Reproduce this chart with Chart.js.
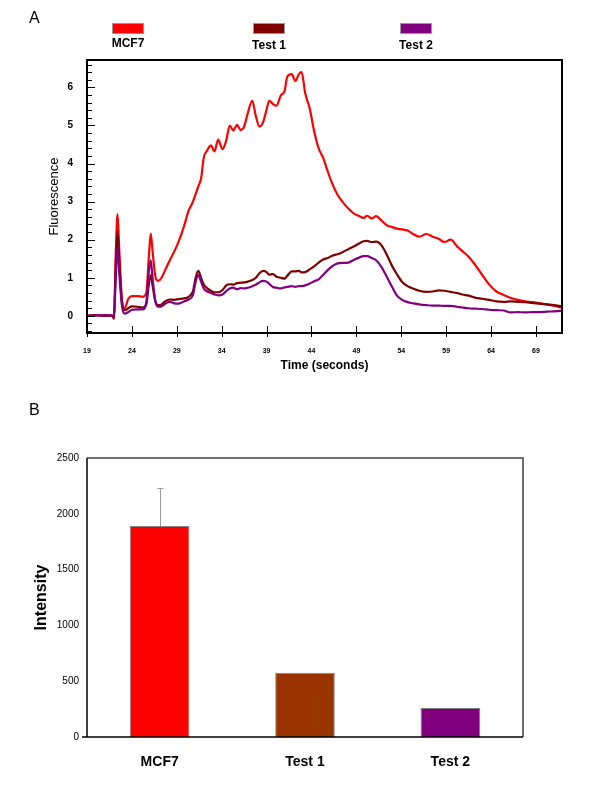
<!DOCTYPE html>
<html lang="en">
<head>
<meta charset="UTF-8" />
<title>Fluorescence traces and intensity</title>
<script src="https://cdn.jsdelivr.net/npm/chart.js"></script>
<style>
  body { margin: 0; background: #fff; font-family: "Liberation Sans", Arial, sans-serif; }
  #page { position: relative; width: 600px; height: 800px; }
  canvas { position: absolute; left: 0; }
  .panel { position: absolute; left: 29px; font-size: 16px; color: #000; line-height: 18px; }
</style>
</head>
<body>
<div id="page">
  <canvas id="traceChart" width="600" height="390" style="top:0"></canvas>
  <canvas id="barChart" width="600" height="410" style="top:390px"></canvas>
  <div class="panel" style="top:9px">A</div>
  <div class="panel" style="top:401px">B</div>
</div>

<script>
// Panel A: fluorescence traces (time in seconds)
const timeSec = [
  19, 20, 21, 21.8, 22.0, 22.2, 22.4, 22.6, 22.9, 23.2,
  23.6, 24.0, 24.6, 25.2, 25.6, 25.9, 26.1, 26.3, 26.6, 26.9,
  27.3, 27.7, 28.2, 28.7, 29.2, 29.8, 30.3, 30.8, 31.1, 31.4,
  31.7, 32.0, 32.4, 32.8, 33.2, 33.6, 34.1, 34.5, 34.9, 35.3,
  35.7, 36.1, 36.5, 36.9, 37.4, 37.8, 38.2, 38.6, 39.0, 39.3,
  39.7, 40.1, 40.6, 41.0, 41.3, 41.8, 42.2, 42.6, 42.9, 43.3,
  43.8, 44.3, 44.8, 45.3, 45.8, 46.3, 46.9, 47.5, 48.1, 48.7,
  49.3, 49.8, 50.2, 50.7, 51.2, 51.8, 52.4, 53.0, 53.5, 54.1,
  54.7, 55.3, 56.0, 56.8, 57.5, 58.2, 58.8, 59.5, 60.2, 60.8,
  61.5, 62.2, 63.0, 63.8, 64.6, 65.4, 66.2, 67.0, 67.8, 68.6,
  69.4, 70.2, 71.0, 71.8
];
const mcf7Trace = [
  0.00, 0.02, 0.00, 0.01, -0.08, 1.60, 2.67, 1.70, 0.40, 0.20,
  0.45, 0.52, 0.52, 0.50, 0.60, 1.60, 2.16, 1.70, 1.05, 0.92,
  1.00, 1.20, 1.45, 1.68, 1.95, 2.35, 2.75, 3.00, 3.20, 3.40,
  3.60, 4.15, 4.35, 4.48, 4.32, 4.63, 4.38, 4.60, 5.00, 4.87,
  5.02, 4.88, 4.97, 5.32, 5.65, 5.25, 4.97, 5.08, 5.42, 5.65,
  5.57, 5.52, 5.80, 5.90, 6.28, 6.35, 6.17, 6.35, 6.40, 5.85,
  5.45, 4.85, 4.40, 4.15, 3.80, 3.48, 3.18, 2.98, 2.82, 2.69,
  2.62, 2.57, 2.63, 2.56, 2.62, 2.50, 2.38, 2.33, 2.29, 2.27,
  2.24, 2.15, 2.08, 2.15, 2.08, 2.02, 1.94, 2.00, 1.83, 1.70,
  1.55, 1.35, 1.08, 0.82, 0.64, 0.55, 0.47, 0.42, 0.38, 0.36,
  0.33, 0.30, 0.27, 0.22
];
const test1Trace = [
  0.00, 0.02, 0.00, 0.01, -0.05, 1.30, 2.23, 1.40, 0.35, 0.15,
  0.20, 0.25, 0.24, 0.22, 0.30, 0.85, 1.07, 0.80, 0.40, 0.28,
  0.30, 0.38, 0.43, 0.42, 0.44, 0.46, 0.50, 0.65, 1.00, 1.18,
  1.00, 0.82, 0.72, 0.66, 0.62, 0.62, 0.68, 0.80, 0.83, 0.82,
  0.86, 0.87, 0.88, 0.90, 0.94, 1.00, 1.12, 1.18, 1.15, 1.08,
  1.10, 1.03, 1.00, 0.98, 1.05, 1.17, 1.17, 1.18, 1.14, 1.15,
  1.22, 1.30, 1.40, 1.48, 1.52, 1.58, 1.62, 1.68, 1.75, 1.82,
  1.90, 1.96, 1.97, 1.94, 1.95, 1.85, 1.60, 1.30, 1.10, 0.89,
  0.78, 0.72, 0.66, 0.63, 0.64, 0.67, 0.66, 0.63, 0.60, 0.56,
  0.53, 0.48, 0.45, 0.42, 0.38, 0.37, 0.38, 0.37, 0.36, 0.34,
  0.32, 0.30, 0.28, 0.25
];
const test2Trace = [
  0.00, 0.01, 0.02, 0.00, -0.03, 1.00, 1.81, 1.10, 0.25, 0.06,
  0.10, 0.16, 0.17, 0.17, 0.35, 1.20, 1.46, 1.00, 0.40, 0.24,
  0.25, 0.32, 0.37, 0.33, 0.32, 0.38, 0.43, 0.55, 0.90, 1.07,
  0.90, 0.72, 0.64, 0.60, 0.56, 0.54, 0.56, 0.65, 0.72, 0.74,
  0.70, 0.73, 0.72, 0.74, 0.78, 0.82, 0.88, 0.92, 0.90, 0.84,
  0.76, 0.74, 0.72, 0.75, 0.76, 0.78, 0.76, 0.78, 0.78, 0.80,
  0.85, 0.91, 0.96, 1.08, 1.20, 1.30, 1.38, 1.39, 1.40, 1.47,
  1.53, 1.57, 1.57, 1.52, 1.46, 1.28, 1.02, 0.75, 0.54, 0.42,
  0.36, 0.33, 0.30, 0.28, 0.27, 0.27, 0.26, 0.26, 0.24, 0.22,
  0.20, 0.19, 0.18, 0.16, 0.15, 0.14, 0.09, 0.10, 0.09, 0.10,
  0.10, 0.11, 0.12, 0.13
];
const timeTicks = [19, 24, 29, 34, 39, 44, 49, 54, 59, 64, 69];
const fluorTicks = [0, 1, 2, 3, 4, 5, 6];

// Panel B: intensity bars
const sampleNames = ['MCF7', 'Test 1', 'Test 2'];
const intensity = [1890, 575, 260];
const intensityErr = [340, 0, 0];
const intensityTicks = [0, 500, 1000, 1500, 2000, 2500];

const traceColors = ['#ff0000', '#800000', '#800080'];
const barColors = ['#ff0000', '#993300', '#800080'];

Chart.defaults.font.family = '"Liberation Sans", Arial, sans-serif';
Chart.defaults.color = '#000';

function pts(ys) {
  return timeSec.map((t, i) => ({ x: t, y: ys[i] }));
}

// legend boxes with names underneath, frame and inside tick marks for panel A
const traceDecor = {
  id: 'traceDecor',
  afterDraw(chart, args, opts) {
    const { ctx, chartArea: a, scales: { x, y } } = chart;
    ctx.save();
    ctx.strokeStyle = '#000';
    ctx.lineWidth = 1;
    for (let i = -2; i <= 33; i++) {
      const py = Math.round(y.getPixelForValue(i * 0.2)) + 0.5;
      if (py < a.top || py > a.bottom) continue;
      const len = i % 5 === 0 ? 8 : 5;
      ctx.beginPath();
      ctx.moveTo(a.left, py);
      ctx.lineTo(a.left + len, py);
      ctx.stroke();
    }
    timeTicks.forEach(v => {
      const px = Math.round(x.getPixelForValue(v)) + 0.5;
      ctx.beginPath();
      ctx.moveTo(px, a.bottom - 7);
      ctx.lineTo(px, a.bottom + 4);
      ctx.stroke();
    });
    ctx.lineWidth = 2;
    ctx.strokeRect(a.left, a.top, a.width, a.height);

    ctx.font = 'bold 12px "Liberation Sans", Arial, sans-serif';
    ctx.textAlign = 'center';
    ctx.textBaseline = 'middle';
    chart.data.datasets.forEach((ds, i) => {
      const cx = opts.centers[i];
      ctx.fillStyle = ds.borderColor;
      ctx.fillRect(cx - 16, 23, 32, 11);
      ctx.strokeStyle = '#999';
      ctx.lineWidth = 1;
      ctx.strokeRect(cx - 15.5, 23.5, 31, 10);
      ctx.fillStyle = '#000';
      ctx.fillText(ds.label, cx, i === 0 ? 44 : 46);
    });
    ctx.restore();
  }
};

new Chart(document.getElementById('traceChart'), {
  type: 'line',
  data: {
    datasets: [
      { label: sampleNames[0], data: pts(mcf7Trace), borderColor: traceColors[0], order: 2 },
      { label: sampleNames[1], data: pts(test1Trace), borderColor: traceColors[1], order: 1 },
      { label: sampleNames[2], data: pts(test2Trace), borderColor: traceColors[2], order: 0 }
    ]
  },
  options: {
    responsive: false,
    animation: false,
    layout: { padding: { top: 60, right: 38, bottom: 0, left: 0 } },
    elements: {
      line: { borderWidth: 2.2, cubicInterpolationMode: 'monotone', fill: false },
      point: { radius: 0 }
    },
    plugins: {
      legend: { display: false },
      tooltip: { enabled: false },
      traceDecor: { centers: [128, 269, 416] }
    },
    scales: {
      x: {
        type: 'linear',
        min: 19,
        max: 71.9,
        afterBuildTicks: s => { s.ticks = timeTicks.map(v => ({ value: v })); },
        afterFit: s => { s.height = 57; },
        grid: { display: false, drawTicks: false },
        border: { display: false },
        ticks: { font: { size: 7, weight: 'bold' }, padding: 14, maxRotation: 0, autoSkip: false, callback: v => String(v) },
        title: { display: true, text: 'Time (seconds)', font: { size: 12, weight: 'bold' }, padding: { top: 0, bottom: 17 } }
      },
      y: {
        min: -0.45,
        max: 6.72,
        afterBuildTicks: s => { s.ticks = fluorTicks.map(v => ({ value: v })); },
        afterFit: s => { s.width = 87; },
        grid: { display: false, drawTicks: false },
        border: { display: false },
        ticks: { font: { size: 10, weight: 'bold' }, padding: 14, callback: v => String(v) },
        title: { display: true, text: 'Fluorescence', font: { size: 13 }, padding: { top: 47, bottom: 0 } }
      }
    }
  },
  plugins: [traceDecor]
});

// error bar and frame for panel B
const barDecor = {
  id: 'barDecor',
  afterDatasetsDraw(chart) {
    const { ctx, scales: { y } } = chart;
    const meta = chart.getDatasetMeta(0);
    ctx.save();
    ctx.strokeStyle = '#999';
    ctx.lineWidth = 1;
    intensity.forEach((v, i) => {
      if (!intensityErr[i]) return;
      const px = Math.round(meta.data[i].x) + 0.5;
      const y0 = y.getPixelForValue(v);
      const y1 = Math.round(y.getPixelForValue(v + intensityErr[i])) + 0.5;
      ctx.beginPath();
      ctx.moveTo(px, y0);
      ctx.lineTo(px, y1);
      ctx.moveTo(px - 3, y1);
      ctx.lineTo(px + 3, y1);
      ctx.stroke();
    });
    ctx.restore();
  },
  afterDraw(chart) {
    const { ctx, chartArea: a } = chart;
    ctx.save();
    ctx.lineWidth = 1.5;
    ctx.strokeStyle = '#404040';
    ctx.beginPath();
    ctx.moveTo(a.left, a.top);
    ctx.lineTo(a.right, a.top);
    ctx.lineTo(a.right, a.bottom);
    ctx.stroke();
    ctx.strokeStyle = '#000';
    ctx.beginPath();
    ctx.moveTo(a.left, a.top);
    ctx.lineTo(a.left, a.bottom);
    ctx.moveTo(a.left - 5, a.bottom);
    ctx.lineTo(a.right, a.bottom);
    ctx.stroke();
    ctx.restore();
  }
};

new Chart(document.getElementById('barChart'), {
  type: 'bar',
  data: {
    labels: sampleNames,
    datasets: [{
      data: intensity,
      backgroundColor: barColors,
      borderColor: '#808080',
      borderWidth: 1,
      categoryPercentage: 1,
      barPercentage: 0.41
    }]
  },
  options: {
    responsive: false,
    animation: false,
    layout: { padding: { top: 68, right: 77, bottom: 0, left: 0 } },
    plugins: { legend: { display: false }, tooltip: { enabled: false } },
    scales: {
      x: {
        afterFit: s => { s.height = 63; },
        grid: { display: false, drawTicks: false },
        border: { display: false },
        ticks: { font: { size: 14, weight: 'bold' }, padding: 17 }
      },
      y: {
        min: 0,
        max: 2500,
        afterBuildTicks: s => { s.ticks = intensityTicks.map(v => ({ value: v })); },
        afterFit: s => { s.width = 87; },
        grid: { display: false, drawTicks: false },
        border: { display: false },
        ticks: { font: { size: 10 }, padding: 8, callback: v => String(v) },
        title: { display: true, text: 'Intensity', font: { size: 16, weight: 'bold' }, padding: { top: 32, bottom: 0 } }
      }
    }
  },
  plugins: [barDecor]
});
</script>
</body>
</html>
